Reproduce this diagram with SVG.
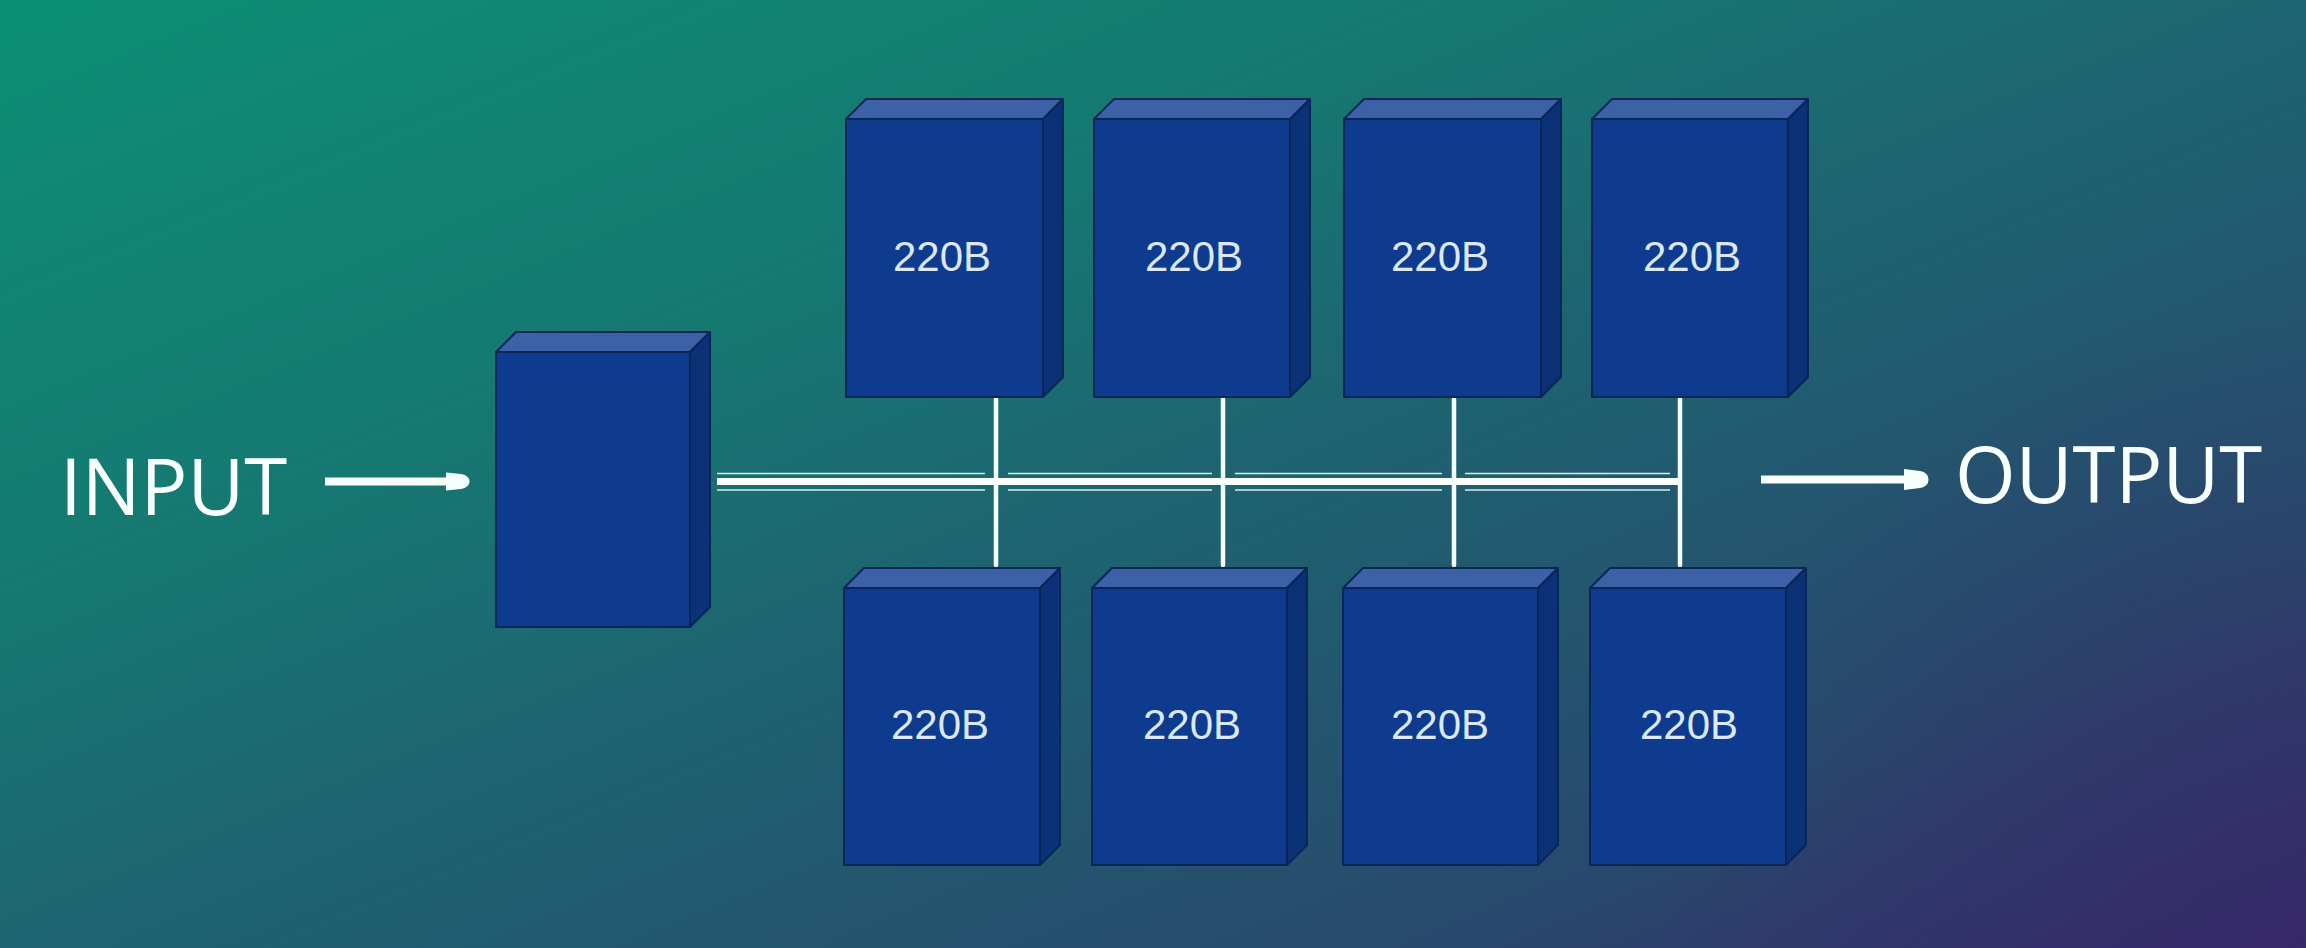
<svg xmlns="http://www.w3.org/2000/svg" width="2306" height="948" viewBox="0 0 2306 948">
  <defs>
    <linearGradient id="bg" x1="0" y1="0" x2="1" y2="1">
      <stop offset="0" stop-color="#0c8f76"/>
      <stop offset="0.3" stop-color="#157a72"/>
      <stop offset="0.55" stop-color="#1f6070"/>
      <stop offset="0.8" stop-color="#284a6d"/>
      <stop offset="1" stop-color="#35296b"/>
    </linearGradient>
    <radialGradient id="purple" cx="2306" cy="948" r="650" gradientUnits="userSpaceOnUse">
      <stop offset="0" stop-color="#372868" stop-opacity="0.6"/>
      <stop offset="1" stop-color="#372868" stop-opacity="0"/>
    </radialGradient>
  </defs>
  <style>
    .front { fill: #0f3b8f; stroke: #0a2657; stroke-width: 2; stroke-linejoin: round; }
    .top { fill: #3c61a7; stroke: #0a2657; stroke-width: 2; stroke-linejoin: round; }
    .side { fill: #0b3277; stroke: #0a2657; stroke-width: 2; stroke-linejoin: round; }
    .lbl { font-family: "Liberation Sans", Arial, sans-serif; font-size: 42px; fill: #dce8f6; text-anchor: middle; }
    .big { font-family: "Open Sans", "Noto Sans", sans-serif; font-size: 78px; font-weight: 500; fill: #f8fffd; }
    .wire { stroke: #f4fffb; stroke-width: 4.5; stroke-linecap: round; fill: none; }
    .bus { stroke: #fbfffe; stroke-width: 7; fill: none; }
    .rail { stroke: #d6efe8; stroke-width: 1.6; fill: none; }
    .arrow { stroke: #f7fffc; stroke-width: 8; fill: none; }
    .head { fill: #f7fffc; }
  </style>

  <rect x="0" y="0" width="2306" height="948" fill="url(#bg)"/>
  <rect x="0" y="0" width="2306" height="948" fill="url(#purple)"/>

  <g id="connectors">
    <line class="bus" x1="717" y1="481.5" x2="1681" y2="481.5"/>
    <g>
      <line class="rail" x1="717" y1="473.5" x2="985" y2="473.5"/>
      <line class="rail" x1="1008" y1="473.5" x2="1212" y2="473.5"/>
      <line class="rail" x1="1235" y1="473.5" x2="1442" y2="473.5"/>
      <line class="rail" x1="1465" y1="473.5" x2="1670" y2="473.5"/>
      <line class="rail" x1="717" y1="490" x2="985" y2="490"/>
      <line class="rail" x1="1008" y1="490" x2="1212" y2="490"/>
      <line class="rail" x1="1235" y1="490" x2="1442" y2="490"/>
      <line class="rail" x1="1465" y1="490" x2="1670" y2="490"/>
    </g>
    <line class="wire" x1="996" y1="399" x2="996" y2="565"/>
    <line class="wire" x1="1223" y1="399" x2="1223" y2="565"/>
    <line class="wire" x1="1454" y1="399" x2="1454" y2="565"/>
    <line class="wire" x1="1680" y1="399" x2="1680" y2="565"/>
    <g id="arrow-in">
      <line class="arrow" x1="325" y1="481.5" x2="450" y2="481.5"/>
      <path class="head" d="M446,472.5 L461,474 Q469.5,475.5 469.5,481.5 Q469.5,487.5 461,489 L446,490.5 Z"/>
    </g>
    <g id="arrow-out">
      <line class="arrow" x1="1761" y1="479.5" x2="1908" y2="479.5"/>
      <path class="head" d="M1904,469 L1920,471 Q1928.5,472.5 1928.5,479.5 Q1928.5,486.5 1920,488 L1904,490 Z"/>
    </g>
  </g>

  <g id="input-label">
    <text class="big" x="60" y="515">INPUT</text>
  </g>
  <g id="output-label">
    <text class="big" x="1955" y="503">OUTPUT</text>
  </g>

  <g id="router">
    <polygon class="top" points="496,352 516,332 710,332 690,352"/>
    <polygon class="side" points="690,352 710,332 710,607 690,627"/>
    <rect class="front" x="496" y="352" width="194" height="275"/>
  </g>

  <g id="expert-t1">
    <polygon class="top" points="846,119 866,99 1063,99 1043,119"/>
    <polygon class="side" points="1043,119 1063,99 1063,377 1043,397"/>
    <rect class="front" x="846" y="119" width="197" height="278"/>
    <text class="lbl" x="942" y="271">220B</text>
  </g>
  <g id="expert-t2">
    <polygon class="top" points="1094,119 1114,99 1310,99 1290,119"/>
    <polygon class="side" points="1290,119 1310,99 1310,377 1290,397"/>
    <rect class="front" x="1094" y="119" width="196" height="278"/>
    <text class="lbl" x="1194" y="271">220B</text>
  </g>
  <g id="expert-t3">
    <polygon class="top" points="1344,119 1364,99 1561,99 1541,119"/>
    <polygon class="side" points="1541,119 1561,99 1561,377 1541,397"/>
    <rect class="front" x="1344" y="119" width="197" height="278"/>
    <text class="lbl" x="1440" y="271">220B</text>
  </g>
  <g id="expert-t4">
    <polygon class="top" points="1592,119 1612,99 1808,99 1788,119"/>
    <polygon class="side" points="1788,119 1808,99 1808,377 1788,397"/>
    <rect class="front" x="1592" y="119" width="196" height="278"/>
    <text class="lbl" x="1692" y="271">220B</text>
  </g>

  <g id="expert-b1">
    <polygon class="top" points="844,588 864,568 1060,568 1040,588"/>
    <polygon class="side" points="1040,588 1060,568 1060,845 1040,865"/>
    <rect class="front" x="844" y="588" width="196" height="277"/>
    <text class="lbl" x="940" y="739">220B</text>
  </g>
  <g id="expert-b2">
    <polygon class="top" points="1092,588 1112,568 1307,568 1287,588"/>
    <polygon class="side" points="1287,588 1307,568 1307,845 1287,865"/>
    <rect class="front" x="1092" y="588" width="195" height="277"/>
    <text class="lbl" x="1192" y="739">220B</text>
  </g>
  <g id="expert-b3">
    <polygon class="top" points="1343,588 1363,568 1558,568 1538,588"/>
    <polygon class="side" points="1538,588 1558,568 1558,845 1538,865"/>
    <rect class="front" x="1343" y="588" width="195" height="277"/>
    <text class="lbl" x="1440" y="739">220B</text>
  </g>
  <g id="expert-b4">
    <polygon class="top" points="1590,588 1610,568 1806,568 1786,588"/>
    <polygon class="side" points="1786,588 1806,568 1806,845 1786,865"/>
    <rect class="front" x="1590" y="588" width="196" height="277"/>
    <text class="lbl" x="1689" y="739">220B</text>
  </g>
</svg>
